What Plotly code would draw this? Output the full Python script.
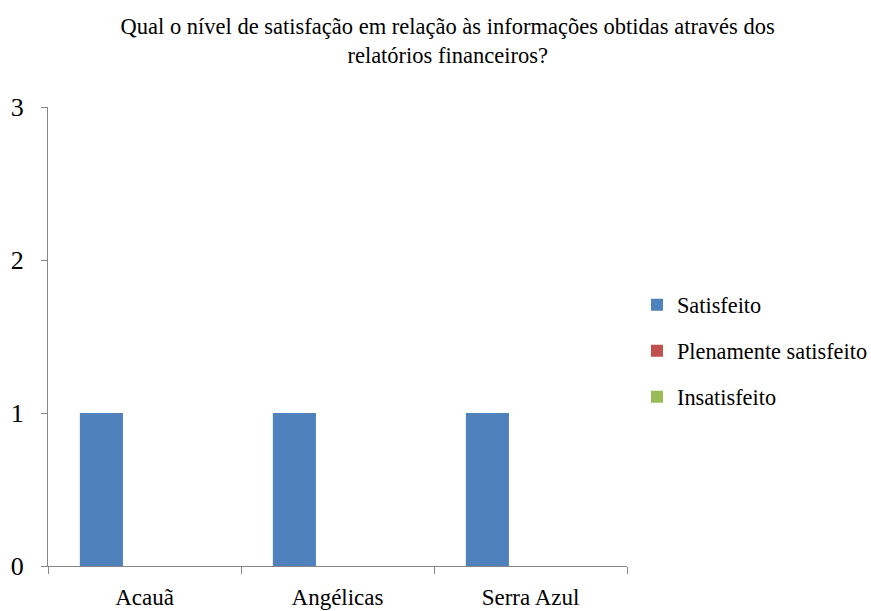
import plotly.graph_objects as go

categories = ["Acauã", "Angélicas", "Serra Azul"]
satisfeito = [1, 1, 1]
plenamente = [0, 0, 0]
insatisfeito = [0, 0, 0]
series_names = ["Satisfeito", "Plenamente satisfeito", "Insatisfeito"]
colors = ["#4F81BD", "#C0504D", "#9BBB59"]

FONT = "Liberation Serif"

fig = go.Figure()
for name, vals, col in zip(series_names, [satisfeito, plenamente, insatisfeito], colors):
    fig.add_trace(go.Bar(x=categories, y=vals, name=name, marker_color=col,
                         legendgroup=name, marker_line_width=0))

fig.update_layout(
    width=871, height=611,
    margin=dict(l=48, r=244, t=107, b=45, autoexpand=False),
    paper_bgcolor="white", plot_bgcolor="white",
    font=dict(family=FONT, size=23, color="black"),
    barmode="group", bargap=0.33, bargroupgap=0,
    title=dict(text="Qual o nível de satisfação em relação às informações obtidas através dos<br>relatórios financeiros?",
               x=0.514, xref="container", xanchor="center",
               y=0.944, yref="container", yanchor="top",
               font=dict(family=FONT, size=22.5, color="black")),
    legend=dict(xref="container", x=0.7313, xanchor="left", y=0.469, yanchor="middle",
                tracegroupgap=14, itemwidth=30, font=dict(family=FONT, size=22.3, color="black"),
                bgcolor="rgba(0,0,0,0)"),
    showlegend=True,
)
fig.update_xaxes(showline=True, linecolor="#868686", linewidth=1, automargin=False,
                 ticks="outside", tickson="boundaries", ticklen=7, tickcolor="#868686",
                 ticklabelstandoff=10,
                 showgrid=False, tickfont=dict(family=FONT, size=23))
fig.update_yaxes(range=[0, 3], dtick=1, showline=True, linecolor="#868686", linewidth=1,
                 automargin=False, ticklabelstandoff=12,
                 ticks="outside", ticklen=6, tickcolor="#868686", showgrid=False,
                 zeroline=False, tickfont=dict(family=FONT, size=26))

fig.write_html("out.html", config={"displayModeBar": False},
               post_script="document.body.style.margin='0';document.body.style.overflow='hidden';")
